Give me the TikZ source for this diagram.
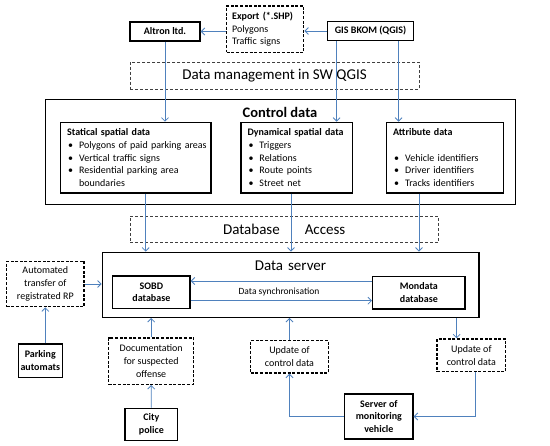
\documentclass[tikz,border=0pt]{standalone}
\usepackage{fontspec}
\setmainfont{Carlito}
\usetikzlibrary{arrows.meta,calc}
\definecolor{arrblue}{RGB}{79,129,189}
\newcommand{\bitem}[1]{\mbox{\makebox[12pt][l]{\hspace{1pt}\textbullet}#1}}
\begin{document}
\begin{tikzpicture}[x=1pt,y=-1pt,
 box/.style={draw,line width=1.4pt,inner sep=0pt,align=center,font=\fontsize{10}{12.7}\selectfont\bfseries},
 dbox/.style={draw,line width=1.4pt,dash pattern=on 3pt off 1.6pt,inner sep=0pt,align=center,font=\fontsize{10}{12.8}\selectfont},
 tbox/.style={draw=black!75,line width=0.8pt,dash pattern=on 3pt off 2pt,inner sep=0pt,font=\fontsize{15}{18}\selectfont},
 listbox/.style={draw,line width=1.4pt,inner xsep=6.5pt,inner ysep=0pt,align=left,anchor=north west,font=\fontsize{10}{12.7}\selectfont},
 bigbox/.style={draw,line width=1.4pt,inner sep=0pt},
 arr/.style={draw=arrblue,line width=0.8pt,-{Straight Barb[length=3.5pt,width=7pt]}},
]
\useasboundingbox (0,0) rectangle (550,446);

% top row
\node[box,minimum width=70pt,minimum height=19pt] (altron) at (165,31.5) {Altron ltd.};
\node[dbox,align=left,minimum width=77pt,minimum height=46.3pt,text width=66pt] (export) at (265.2,29.2) {\textbf{Export (*.SHP)}\\Polygons\\Traffic signs};
\node[box,minimum width=85.6pt,minimum height=18.6pt] (gis) at (370.5,31) {GIS BKOM (QGIS)};
\node[tbox,minimum width=289pt,minimum height=27.3pt] (dm) at (274.5,75.7) {Data management in SW QGIS};

% control data
\node[bigbox,minimum width=469.6pt,minimum height=105pt] (control) at (280.5,151.8) {};
\node[font=\fontsize{14.5}{17}\selectfont\bfseries] (controltitle) at (280,112.5) {Control data};
\node[listbox,minimum width=150.3pt,minimum height=70.6pt,text width=137.3pt] (statical) at (60,121.7)
 {\textbf{Statical spatial data}\\\bitem{Polygons of paid parking areas}\\\bitem{Vertical traffic signs}\\\bitem{Residential parking area}\\\hspace*{12pt}boundaries};
\node[listbox,minimum width=111.4pt,minimum height=70.6pt,text width=98.4pt] (dynamical) at (240.3,121.7)
 {\mbox{\textbf{Dynamical spatial data}}\\\bitem{Triggers}\\\bitem{Relations}\\\bitem{Route points}\\\bitem{Street net}};
\node[listbox,minimum width=116.7pt,minimum height=70.6pt,text width=103.7pt] (attribute) at (386,121.7)
 {\textbf{Attribute data}\\~\\\bitem{Vehicle identifiers}\\\bitem{Driver identifiers}\\\bitem{Tracks identifiers}};

% database access
\node[tbox,minimum width=308.3pt,minimum height=26.3pt] (dba) at (284.2,229.2) {Database\hspace{25pt}Access};

% data server
\node[bigbox,minimum width=376.7pt,minimum height=65pt] (dataserver) at (290.65,284.8) {};
\node[font=\fontsize{15}{18}\selectfont] (dstitle) at (290.5,265.7) {Data\hspace{5pt}server};
\node[box,minimum width=77.3pt,minimum height=32.3pt] (sobd) at (151.35,292.15) {SOBD\\database};
\node[box,minimum width=92.3pt,minimum height=32.3pt] (mondata) at (418.85,292.85) {Mondata\\database};
\node[font=\fontsize{9.5}{12}\selectfont] (synclabel) at (279,291.7) {Data synchronisation};

% left side
\node[dbox,minimum width=77.3pt,minimum height=45.4pt] (automated) at (45.35,284) {Automated\\transfer of\\registrated RP};
\node[box,minimum width=44pt,minimum height=33.7pt] (parking) at (40.3,360.85) {Parking\\automats};
\node[dbox,minimum width=85pt,minimum height=46.3pt] (documentation) at (151.2,361.15) {Documentation\\for suspected\\offense};
\node[box,minimum width=52.7pt,minimum height=32.4pt] (city) at (151.35,424.5) {City\\police};

% bottom right
\node[dbox,minimum width=77.6pt,minimum height=32.3pt] (update1) at (289.5,356.85) {Update of\\control data};
\node[dbox,minimum width=68.7pt,minimum height=32.7pt] (update2) at (471.35,355.35) {Update of\\control data};
\node[box,minimum width=68.3pt,minimum height=45pt] (server) at (378.85,416.5) {Server of\\monitoring\\vehicle};

% connectors
\draw[arr] (gis.west) -- (gis.west -| export.east);
\draw[arr] (altron.east -| export.west) -- (altron.east);
\draw[arr] (altron.south) -- (altron.south |- statical.north);
\coordinate (g1) at ($(gis.south west)+(9.6,0)$);
\coordinate (g2) at ($(gis.south west)+(71.6,0)$);
\draw[arr] (g1) -- (g1 |- dynamical.north);
\draw[arr] (g2) -- (g2 |- attribute.north);

\coordinate (s1) at ($(statical.south west)+(85.7,0)$);
\coordinate (d1) at ($(dynamical.south west)+(50.7,0)$);
\coordinate (a1) at ($(attribute.south west)+(33,0)$);
\draw[arr] (s1) -- (s1 |- dataserver.north);
\draw[arr] (d1) -- (d1 |- dataserver.north);
\draw[arr] (a1) -- (a1 |- dataserver.north);

\draw[arr] ([yshift=11.85pt]mondata.west) coordinate (m1) -- (m1 -| sobd.east);
\draw[arr] ([yshift=-8.55pt]sobd.east) coordinate (s2) -- (s2 -| mondata.west);

\draw[arr] (automated.east) -- (automated.east -| dataserver.west);
\draw[arr] (automated.south |- parking.north) -- (automated.south);
\draw[arr] (documentation.north) -- (documentation.north |- dataserver.south);
\draw[arr] (city.north) -- (documentation.south);
\draw[arr] (update1.north) -- (update1.north |- dataserver.south);
\coordinate (u2in) at ($(update2.north west)+(20.3,0)$);
\draw[arr] (u2in |- dataserver.south) -- (u2in);
\draw[arr] (server.west) -| (update1.south);
\coordinate (u2out) at ($(update2.south west)+(39,0)$);
\draw[arr] (u2out) |- (server.east);
\end{tikzpicture}
\end{document}
